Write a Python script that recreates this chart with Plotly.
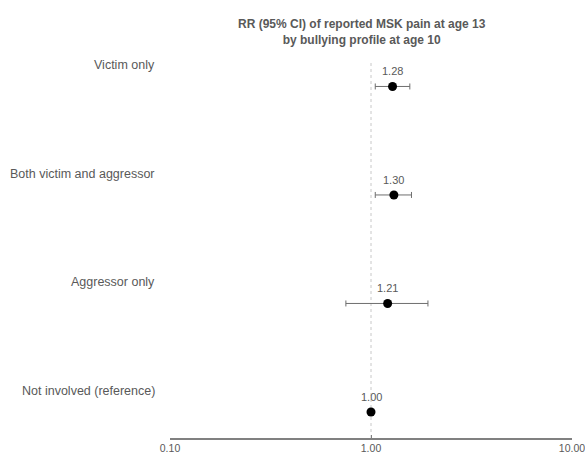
import math
import plotly.graph_objects as go

# Bullying profiles, bottom to top
profiles = ["Not involved (reference)", "Aggressor only", "Both victim and aggressor", "Victim only"]
rr = [1.00, 1.21, 1.30, 1.28]
ci_low = [1.00, 0.75, 1.05, 1.05]
ci_high = [1.00, 1.92, 1.59, 1.56]
tick_vals = [0.1, 1, 10]
tick_text = ["0.10", "1.00", "10.00"]

ypos = list(range(len(profiles)))
err_plus = [h - r for h, r in zip(ci_high, rr)]
err_minus = [r - l for r, l in zip(rr, ci_low)]

W, H = 585, 455
ML, MR, MT, MB = 170, 13, 55, 17
plot_w = W - ML - MR
plot_h = H - MT - MB

TXT = "#595959"
FONT = "Liberation Sans, Arial, sans-serif"

fig = go.Figure()

# Reference line at RR = 1
fig.add_shape(type="line", xref="x", yref="y", x0=1, x1=1, y0=-0.24, y1=3.23,
              line=dict(color="#c8c8c8", width=1, dash="dot"), layer="below")

fig.add_trace(go.Scatter(
    x=rr, y=ypos, mode="markers",
    marker=dict(color="black", size=9),
    error_x=dict(type="data", symmetric=False, array=err_plus, arrayminus=err_minus,
                 color="#6e6e6e", thickness=1, width=3),
    hoverinfo="skip", showlegend=False,
))

# Point estimate labels (annotation x on a log axis is given in log10 units)
for x, y in zip(rr, ypos):
    fig.add_annotation(x=math.log10(x), y=y, xref="x", yref="y", text=f"{x:.2f}", showarrow=False,
                       yshift=15, font=dict(family=FONT, size=11, color=TXT))

# Profile labels, right-aligned left of the plot
for name, y in zip(profiles, ypos):
    fig.add_annotation(x=(157 - ML) / plot_w, y=y, xref="paper", yref="y", text=name,
                       showarrow=False, xanchor="right", yshift=21,
                       font=dict(family=FONT, size=12.5, color=TXT))

# Title
fig.add_annotation(x=(362 - ML) / plot_w, y=(H - MB - 32) / plot_h, xref="paper", yref="paper",
                   text="<b>RR (95% CI) of reported MSK pain at age 13<br>by bullying profile at age 10</b>",
                   showarrow=False, xanchor="center", yanchor="middle",
                   font=dict(family=FONT, size=12, color=TXT))

fig.update_xaxes(type="log", range=[-1, 1], tickvals=tick_vals, ticktext=tick_text,
                 showline=True, linecolor="#808080", linewidth=1.5,
                 ticks="inside", ticklen=3, tickcolor="#808080",
                 showgrid=False, zeroline=False, automargin=False,
                 ticklabeloverflow="allow",
                 tickfont=dict(family=FONT, size=10.5, color=TXT))
fig.update_yaxes(range=[-0.24, 3.29], visible=False, showgrid=False, zeroline=False,
                 automargin=False)

fig.update_layout(width=W, height=H, margin=dict(l=ML, r=MR, t=MT, b=MB, autoexpand=False),
                  plot_bgcolor="white", paper_bgcolor="white", showlegend=False)

fig.write_html("out.html")
